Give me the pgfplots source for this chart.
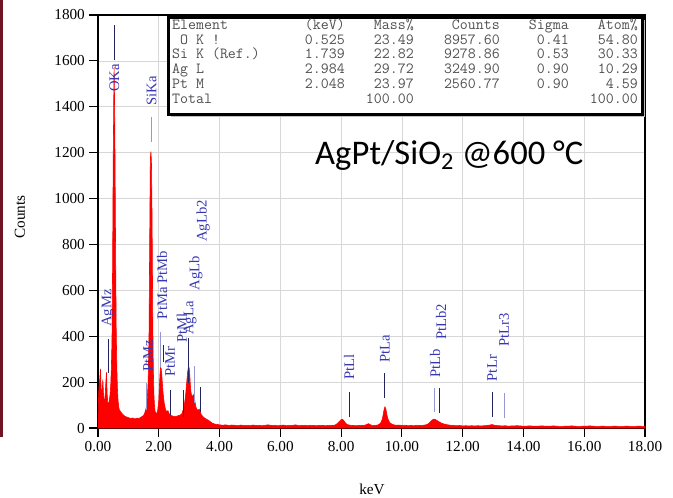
\documentclass[border=0pt]{standalone}
\usepackage{fontspec}
\setmainfont{Liberation Serif}
\newfontfamily\calibri{Carlito}
\usepackage{pgfplots}
\pgfplotsset{compat=1.18}

\definecolor{lbl}{RGB}{55,55,180}
\definecolor{mkd}{RGB}{35,35,95}
\definecolor{mkl}{RGB}{150,150,210}
\definecolor{gridc}{RGB}{215,215,215}
\definecolor{tabtxt}{RGB}{80,80,80}
\definecolor{slide}{RGB}{110,20,35}

\newcommand{\lblfont}{\fontsize{12.5}{14}\selectfont}
\newcommand{\tabfont}{\ttfamily\fontsize{13.2}{14}\selectfont}

\begin{document}
\begin{tikzpicture}
\begin{axis}[
    at={(0,0)}, anchor=south west,
    width=16.41cm, height=12.39cm, scale only axis,
    xmin=0, xmax=18, ymin=0, ymax=1800,
    xtick={0,2,...,18}, ytick={0,200,...,1800},
    grid=major,
    major grid style={gridc, line width=0.6pt},
    axis line style={line width=1.2pt},
    tick align=outside, tick pos=left,
    major tick length=0.27cm,
    tick style={black, line width=1pt},
    x tick label style={/pgf/number format/fixed, /pgf/number format/fixed zerofill, /pgf/number format/precision=2},
    y tick label style={/pgf/number format/1000 sep={}},
    /pgf/number format/assume math mode=true,
    ticklabel style={font=\rmfamily\fontsize{13}{15}\selectfont},
    clip=false,
]

% spectrum
\addplot[draw=red, fill=red, line width=0.5pt] coordinates {
(0.00,0) (0.02,150) (0.04,195) (0.06,215) (0.08,258) (0.10,185) (0.12,140) (0.14,165)
(0.16,212) (0.18,150) (0.20,120) (0.22,108) (0.24,150) (0.26,205) (0.28,242) (0.30,150)
(0.32,112) (0.34,104) (0.36,112) (0.38,128) (0.40,150) (0.42,190) (0.44,265) (0.46,380)
(0.48,700) (0.50,1170) (0.51,1300) (0.52,1460) (0.53,1575) (0.54,1480) (0.55,1350) (0.56,1180)
(0.58,750) (0.60,420) (0.62,260) (0.64,170) (0.66,120) (0.68,95) (0.70,80) (0.73,74)
(0.76,68) (0.80,62) (0.84,56) (0.88,52) (0.92,49) (0.96,47) (1.00,45) (1.05,43)
(1.10,42) (1.15,44) (1.20,40) (1.25,41) (1.30,43) (1.35,42) (1.40,46) (1.45,50)
(1.50,55) (1.54,66) (1.58,85) (1.62,125) (1.65,200) (1.68,420) (1.70,800) (1.72,1140)
(1.73,1190) (1.74,1205) (1.75,1185) (1.76,1150) (1.78,900) (1.80,500) (1.82,260) (1.84,145)
(1.86,95) (1.88,72) (1.92,62) (1.96,72) (2.00,120) (2.02,180) (2.04,235) (2.06,265)
(2.08,258) (2.10,230) (2.12,190) (2.14,155) (2.16,130) (2.18,108) (2.22,82) (2.26,70)
(2.30,76) (2.34,62) (2.40,55) (2.46,52) (2.52,49) (2.58,51) (2.64,54) (2.70,56)
(2.76,62) (2.80,78) (2.84,100) (2.88,140) (2.92,200) (2.95,245) (2.98,268) (3.00,262)
(3.02,232) (3.04,185) (3.06,155) (3.08,142) (3.11,138) (3.14,145) (3.16,140) (3.19,115)
(3.22,92) (3.26,80) (3.30,78) (3.33,82) (3.36,72) (3.40,58) (3.45,50) (3.50,44)
(3.55,40) (3.60,36) (3.65,32) (3.70,27) (3.75,22) (3.80,19) (3.85,17) (3.90,16)
(3.95,15) (4.00,14)
(4.1,12) (4.2,14) (4.3,11) (4.4,13) (4.5,12) (4.6,10) (4.7,13) (4.8,11) (4.9,12) (5.0,10)
(5.1,13) (5.2,11) (5.3,12) (5.4,10) (5.5,12) (5.6,14) (5.7,11) (5.8,12) (5.9,10) (6.0,11)
(6.1,13) (6.2,10) (6.3,12) (6.4,11) (6.5,14) (6.6,10) (6.7,11) (6.8,12) (6.9,10) (7.0,12)
(7.1,11) (7.2,10) (7.3,12) (7.4,11) (7.5,10) (7.6,12) (7.7,11) (7.8,13) (7.85,17) (7.9,23)
(7.95,30) (8.0,36) (8.05,38) (8.1,30) (8.15,21) (8.2,15) (8.3,12) (8.4,11) (8.5,10) (8.6,12)
(8.7,11) (8.8,13) (8.85,16) (8.9,19) (8.95,15) (9.0,12) (9.1,11) (9.2,13) (9.25,16) (9.3,22)
(9.35,36) (9.38,55) (9.41,78) (9.44,92) (9.47,84) (9.50,62) (9.53,44) (9.57,30) (9.62,21) (9.7,15)
(9.8,12) (9.9,13) (10.0,11) (10.1,12) (10.2,10) (10.3,11) (10.4,10) (10.5,12) (10.6,11) (10.7,12)
(10.8,14) (10.85,17) (10.9,22) (10.95,29) (11.0,35) (11.05,39) (11.1,37) (11.15,33) (11.2,29) (11.25,25)
(11.3,21) (11.4,17) (11.5,14) (11.6,12) (11.7,11) (11.8,10) (11.9,11) (12.0,9) (12.1,10) (12.2,9)
(12.3,10) (12.4,9) (12.5,10) (12.6,9) (12.7,10) (12.8,11) (12.9,13) (12.95,15) (13.0,14) (13.05,12)
(13.1,11) (13.2,10) (13.3,9) (13.4,10) (13.5,8) (13.6,9) (13.8,10) (14.0,8) (14.2,9) (14.4,8)
(14.6,9) (14.8,8) (15.0,9) (15.2,7) (15.4,8) (15.6,9) (15.8,7) (16.0,8) (16.2,9) (16.4,7)
(16.6,8) (16.8,7) (17.0,8) (17.2,7) (17.4,8) (17.6,7) (17.8,8) (18.0,7)
} \closedcycle;

% line markers (dark and light)
\addplot[mkd, line width=0.8pt] coordinates {(0.54,1604) (0.54,1756)};
\addplot[mkl, line width=0.8pt] coordinates {(1.76,1246) (1.76,1355)};
\addplot[mkd, line width=0.8pt] coordinates {(0.33,240) (0.33,390)};
\addplot[mkl, line width=0.8pt] coordinates {(1.61,78) (1.61,196)};
\addplot[mkl, line width=0.8pt] coordinates {(2.06,266) (2.06,418)};
\addplot[mkd, line width=0.8pt] coordinates {(2.14,288) (2.14,362)};
\addplot[mkd, line width=0.8pt] coordinates {(2.37,57) (2.37,166)};
\addplot[mkd, line width=0.8pt] coordinates {(2.80,48) (2.80,166)};
\addplot[mkd, line width=0.8pt] coordinates {(2.99,196) (2.99,392)};
\addplot[mkl, line width=0.8pt] coordinates {(3.16,110) (3.16,270)};
\addplot[mkd, line width=0.8pt] coordinates {(3.36,70) (3.36,179)};
\addplot[mkd, line width=0.8pt] coordinates {(8.26,48) (8.26,157)};
\addplot[mkd, line width=0.8pt] coordinates {(9.44,131) (9.44,240)};
\addplot[mkl, line width=0.8pt] coordinates {(11.06,70) (11.06,174)};
\addplot[mkd, line width=0.8pt] coordinates {(11.25,65) (11.25,174)};
\addplot[mkd, line width=0.8pt] coordinates {(12.97,48) (12.97,157)};
\addplot[mkl, line width=0.8pt] coordinates {(13.36,44) (13.36,153)};

% line labels
\begin{scope}[every node/.style={lbl, rotate=90, font=\lblfont, inner sep=0pt}]
\node at (axis cs:0.54,1525) {OKa};
\node at (axis cs:1.76,1469) {SiKa};
\node at (axis cs:0.33,523) {AgMz};
\node at (axis cs:1.65,314) {PtMz};
\node at (axis cs:2.11,623) {PtMa PtMb};
\node at (axis cs:2.37,288) {PtMr};
\node at (axis cs:2.76,436) {PtMl};
\node at (axis cs:3.03,479) {AgLa};
\node at (axis cs:3.22,675) {AgLb};
\node at (axis cs:3.46,902) {AgLb2};
\node at (axis cs:8.26,266) {PtLl};
\node at (axis cs:9.44,344) {PtLa};
\node at (axis cs:11.09,283) {PtLb};
\node at (axis cs:11.29,462) {PtLb2};
\node at (axis cs:12.97,261) {PtLr};
\node at (axis cs:13.36,427) {PtLr3};
\end{scope}
\end{axis}

% overlays in pixel units of the reference
\begin{scope}[shift={(-2.94cm,12.84cm)}, x=0.03cm, y=-0.03cm]
\fill[slide] (0,0) rectangle (3,437);

\node[rotate=90, font=\fontsize{13}{15}\selectfont] at (20,217) {Counts};
\node[font=\fontsize{13}{15}\selectfont] at (372,489) {keV};

% quantification table
\fill[black!25] (171,20) rectangle (645,117);
\draw[fill=white, line width=0.09cm] (168.5,17.5) rectangle (642.5,114.5);
\begin{scope}[every node/.style={tabtxt, font=\tabfont, inner sep=0pt}]
\node[anchor=mid west] at (172,27) {Element};
\node[anchor=mid east] at (345,27) {(keV)};
\node[anchor=mid east] at (414,27) {Mass\%};
\node[anchor=mid east] at (500,27) {Counts};
\node[anchor=mid east] at (569,27) {Sigma};
\node[anchor=mid east] at (638,27) {Atom\%};
\node[anchor=mid west] at (180,41.5) {O K !};
\node[anchor=mid east] at (345,41.5) {0.525};
\node[anchor=mid east] at (414,41.5) {23.49};
\node[anchor=mid east] at (500,41.5) {8957.60};
\node[anchor=mid east] at (569,41.5) {0.41};
\node[anchor=mid east] at (638,41.5) {54.80};
\node[anchor=mid west] at (172,56) {Si K (Ref.)};
\node[anchor=mid east] at (345,56) {1.739};
\node[anchor=mid east] at (414,56) {22.82};
\node[anchor=mid east] at (500,56) {9278.86};
\node[anchor=mid east] at (569,56) {0.53};
\node[anchor=mid east] at (638,56) {30.33};
\node[anchor=mid west] at (172,70.7) {Ag L};
\node[anchor=mid east] at (345,70.7) {2.984};
\node[anchor=mid east] at (414,70.7) {29.72};
\node[anchor=mid east] at (500,70.7) {3249.90};
\node[anchor=mid east] at (569,70.7) {0.90};
\node[anchor=mid east] at (638,70.7) {10.29};
\node[anchor=mid west] at (172,85.5) {Pt M};
\node[anchor=mid east] at (345,85.5) {2.048};
\node[anchor=mid east] at (414,85.5) {23.97};
\node[anchor=mid east] at (500,85.5) {2560.77};
\node[anchor=mid east] at (569,85.5) {0.90};
\node[anchor=mid east] at (638,85.5) {4.59};
\node[anchor=mid west] at (172,100.5) {Total};
\node[anchor=mid east] at (414,100.5) {100.00};
\node[anchor=mid east] at (638,100.5) {100.00};
\end{scope}

\node[anchor=west, inner sep=0pt, font=\calibri\fontsize{29.5}{33}\selectfont] at (315,155) {AgPt/SiO\textsubscript{2} @600 °C};

\pgfresetboundingbox
\useasboundingbox (0,0) rectangle (673,497);
\end{scope}
\end{tikzpicture}
\end{document}
